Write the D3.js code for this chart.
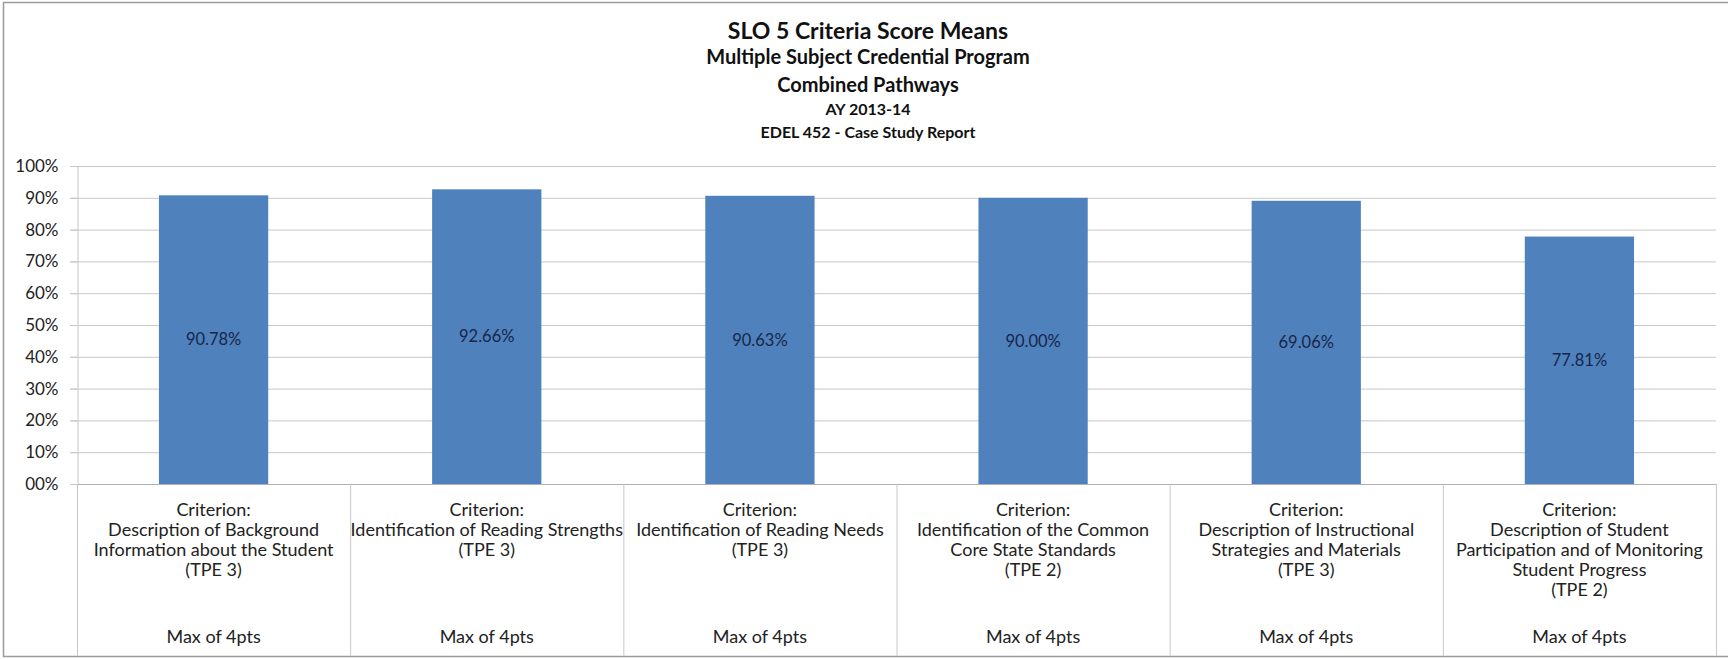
<!DOCTYPE html>
<html>
<head>
<meta charset="utf-8">
<script src="https://cdn.jsdelivr.net/npm/d3@7.9.0/dist/d3.min.js"></script>
<style>
  body { margin: 0; background: #fff; }
  svg { display: block; font-family: Lato, "Open Sans", sans-serif; }
</style>
</head>
<body>
<svg id="chart" width="1728" height="659"></svg>
<script>
const titleLines = [
  'SLO 5 Criteria Score Means',
  'Multiple Subject Credential Program',
  'Combined Pathways',
  'AY 2013-14',
  'EDEL 452 - Case Study Report',
];

const categories = [
  ['Criterion:', 'Description of Background', 'Information about the Student', '(TPE 3)'],
  ['Criterion:', 'Identification of Reading Strengths', '(TPE 3)'],
  ['Criterion:', 'Identification of Reading Needs', '(TPE 3)'],
  ['Criterion:', 'Identification of the Common', 'Core State Standards', '(TPE 2)'],
  ['Criterion:', 'Description of Instructional', 'Strategies and Materials', '(TPE 3)'],
  ['Criterion:', 'Description of Student', 'Participation and of Monitoring', 'Student Progress', '(TPE 2)'],
];
const maxLabel = 'Max of 4pts';

const scores = [90.78, 92.66, 90.63, 90.0, 89.06, 77.81];
const scoreLabels = ['90.78%', '92.66%', '90.63%', '90.00%', '69.06%', '77.81%'];

const yTicks = [0, 10, 20, 30, 40, 50, 60, 70, 80, 90, 100];
const yTickLabels = ['00%', '10%', '20%', '30%', '40%', '50%', '60%', '70%', '80%', '90%', '100%'];

const svg = d3.select('#chart');

// outer chart frame
svg.append('rect')
  .attr('x', 3.5).attr('y', 2.5)
  .attr('width', 1740).attr('height', 654)
  .attr('fill', '#fff')
  .attr('stroke', '#9a9a9a')
  .attr('stroke-width', 1.5);

// titles
let titleSizes = [23, 20, 20, 16, 16];
let titleYs = [39, 64, 92, 115, 138];
titleLines.forEach((t, i) => {
  svg.append('text')
    .attr('x', 868)
    .attr('y', titleYs[i])
    .attr('text-anchor', 'middle')
    .attr('font-weight', 'bold')
    .attr('font-size', titleSizes[i])
    .attr('fill', '#111')
    .text(t);
});

let x = d3.scaleBand()
  .domain(d3.range(categories.length))
  .range([77, 1716])
  .padding(0);

let y = d3.scaleLinear()
  .domain([0, 100])
  .range([484, 166]);

// gridlines
svg.append('g')
  .selectAll('line')
  .data(yTicks.filter((d) => d > 0))
  .join('line')
  .attr('x1', 70).attr('x2', 1716)
  .attr('y1', (d) => y(d) + 0.5).attr('y2', (d) => y(d) + 0.5)
  .attr('stroke', '#c8c8c8');

// y axis
let yAxis = d3.axisLeft(y)
  .tickValues(yTicks)
  .tickFormat((d, i) => yTickLabels[i])
  .tickSize(7)
  .tickPadding(12);

let yg = svg.append('g')
  .attr('transform', 'translate(77.5,0)')
  .call(yAxis);
yg.select('.domain').attr('stroke', '#c8c8c8');
yg.selectAll('.tick line').attr('stroke', '#c8c8c8');
yg.selectAll('.tick text')
  .attr('font-family', 'Lato, sans-serif')
  .attr('font-size', 17)
  .attr('fill', '#222');

// bars
let barW = x.bandwidth() * 0.4;
svg.append('g')
  .selectAll('rect')
  .data(scores)
  .join('rect')
  .attr('x', (d, i) => x(i) + (x.bandwidth() - barW) / 2)
  .attr('y', (d) => y(d))
  .attr('width', barW)
  .attr('height', (d) => y(0) - y(d))
  .attr('fill', '#4f81bd');

// value labels in the middle of each bar
svg.append('g')
  .selectAll('text')
  .data(scores)
  .join('text')
  .attr('x', (d, i) => x(i) + x.bandwidth() / 2)
  .attr('y', (d) => (y(d) + y(0)) / 2)
  .attr('dy', '0.35em')
  .attr('text-anchor', 'middle')
  .attr('font-size', 16.5)
  .attr('fill', '#18264a')
  .text((d, i) => scoreLabels[i]);

// bottom axis line
svg.append('line')
  .attr('x1', 77).attr('x2', 1716)
  .attr('y1', y(0) + 0.5).attr('y2', y(0) + 0.5)
  .attr('stroke', '#b0b0b0');

// category dividers
svg.append('g')
  .selectAll('line')
  .data(d3.range(categories.length + 1))
  .join('line')
  .attr('x1', (i) => 77.5 + i * x.step())
  .attr('x2', (i) => 77.5 + i * x.step())
  .attr('y1', y(0))
  .attr('y2', 656)
  .attr('stroke', '#c8c8c8');

// category labels
let catG = svg.append('g')
  .attr('font-size', 18)
  .attr('fill', '#222')
  .attr('text-anchor', 'middle');

categories.forEach((lines, i) => {
  let cx = x(i) + x.bandwidth() / 2;
  let t = catG.append('text').attr('x', cx).attr('y', 516);
  lines.forEach((l, j) => {
    t.append('tspan')
      .attr('x', cx)
      .attr('dy', j === 0 ? 0 : 20)
      .text(l);
  });
  catG.append('text')
    .attr('x', cx)
    .attr('y', 643)
    .text(maxLabel);
});
</script>
</body>
</html>
